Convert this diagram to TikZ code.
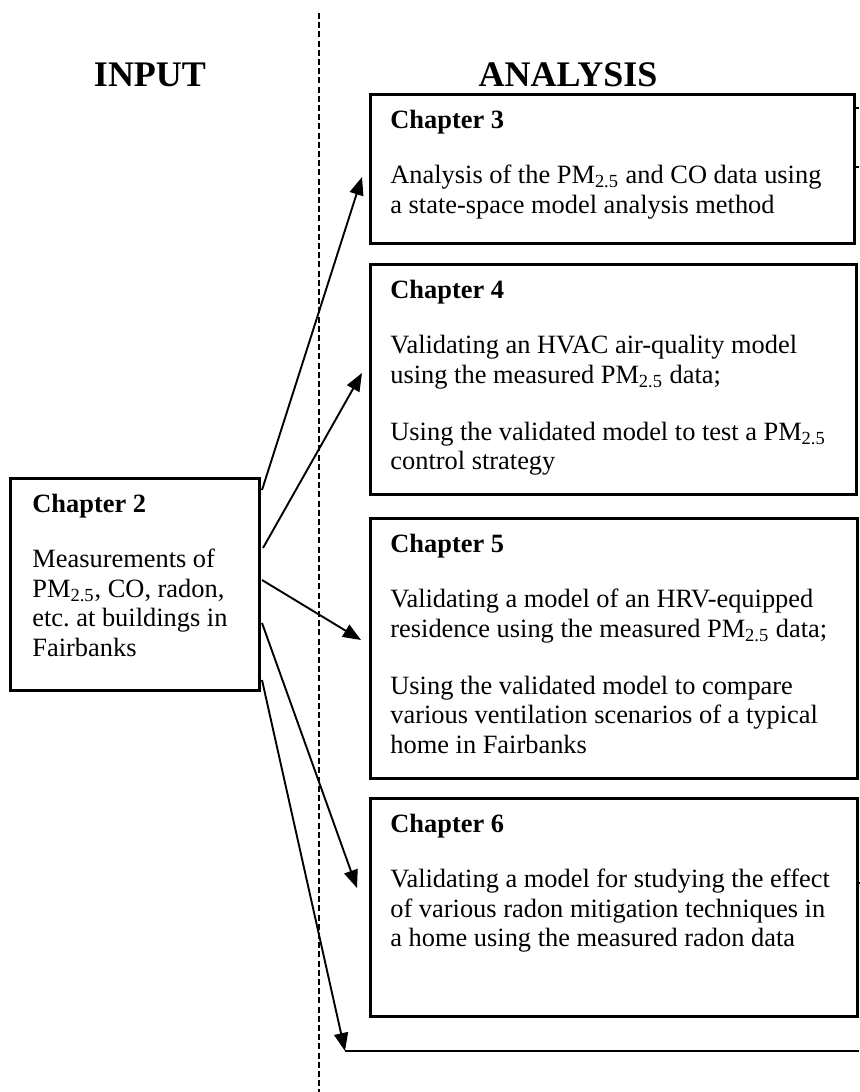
\documentclass[tikz,border=0pt]{standalone}
\usepackage{fontspec}
\setmainfont{Liberation Serif}
\usetikzlibrary{arrows.meta}
\begin{document}
\begin{tikzpicture}[x=0.5pt,y=-0.5pt,
 box/.style={draw, line width=1.25pt, rectangle, inner sep=0pt, anchor=north west},
 txt/.style={anchor=north west, inner sep=0pt, align=left, font=\fontsize{13.2}{14.8}\selectfont},
 conn/.style={line width=0.95pt, -{Triangle[length=9pt,width=7pt]}},
 plain/.style={line width=0.95pt},
 titletext/.style={font=\fontsize{18}{20}\selectfont\bfseries, anchor=base}]
\useasboundingbox (0,0) rectangle (859,1092);
% titles
\node[titletext] (tin) at (150,86) {INPUT};
\node[titletext] (tan) at (568,86) {ANALYSIS};
% divider
\coordinate (dtop) at (319,13);
\coordinate (dbot) at (319,1092);
\draw[dash pattern=on 3pt off 1.6pt, line width=1pt] (dtop) -- (dbot);
% boxes
\node[box, minimum width=124.5pt, minimum height=106pt] (c2) at (9,477) {};
\node[box, minimum width=242pt, minimum height=74.5pt] (c3) at (369,93) {};
\node[box, minimum width=243pt, minimum height=115pt] (c4) at (369,263) {};
\node[box, minimum width=243.5pt, minimum height=130pt] (c5) at (369,517) {};
\node[box, minimum width=243.5pt, minimum height=109pt] (c6) at (369,797) {};
% texts
\node[txt] (t2) at ([xshift=11.5pt,yshift=-8.5pt]c2.north west)
 {\textbf{Chapter 2}\\[12.7pt]
  Measurements of\\
  PM\textsubscript{2.5}, CO, radon,\\
  etc.\ at buildings in\\
  Fairbanks};
\node[txt] (t3) at ([xshift=10.5pt,yshift=-8.5pt]c3.north west)
 {\textbf{Chapter 3}\\[12.7pt]
  Analysis of the PM\textsubscript{2.5} and CO data using\\
  a state-space model analysis method};
\node[txt] (t4) at ([xshift=10.5pt,yshift=-8.5pt]c4.north west)
 {\textbf{Chapter 4}\\[12.7pt]
  Validating an HVAC air-quality model\\
  using the measured PM\textsubscript{2.5} data;\\[13.7pt]
  Using the validated model to test a PM\textsubscript{2.5}\\
  control strategy};
\node[txt] (t5) at ([xshift=10.5pt,yshift=-8.5pt]c5.north west)
 {\textbf{Chapter 5}\\[12.7pt]
  Validating a model of an HRV-equipped\\
  residence using the measured PM\textsubscript{2.5} data;\\[13.7pt]
  Using the validated model to compare\\
  various ventilation scenarios of a typical\\
  home in Fairbanks};
\node[txt] (t6) at ([xshift=10.5pt,yshift=-8.5pt]c6.north west)
 {\textbf{Chapter 6}\\[12.7pt]
  Validating a model for studying the effect\\
  of various radon mitigation techniques in\\
  a home using the measured radon data};
% connectors
\coordinate (s3) at (262,490);
\coordinate (s4) at (263,548);
\coordinate (s5) at (262,580);
\coordinate (s6) at (262,623);
\coordinate (s7) at (262,680);
\coordinate (e3) at (362,177);
\coordinate (e4) at (362,373);
\coordinate (e5) at (361,640);
\coordinate (e6) at (357,888);
\coordinate (corner) at (345,1051);
\coordinate (redge) at (859,1051);
\draw[conn] (s3) -- (e3);
\draw[conn] (s4) -- (e4);
\draw[conn] (s5) -- (e5);
\draw[conn] (s6) -- (e6);
\draw[conn] (s7) -- (corner);
\draw[plain] (corner) -- (redge);
% stubs at the right edge
\coordinate (r1) at (859,108);
\coordinate (r2) at (859,167);
\coordinate (r3) at (859,883);
\draw[plain] (c3.east |- r1) -- (r1);
\draw[plain] (c3.east |- r2) -- (r2);
\draw[plain] (c6.east |- r3) -- (r3);
\end{tikzpicture}
\end{document}
